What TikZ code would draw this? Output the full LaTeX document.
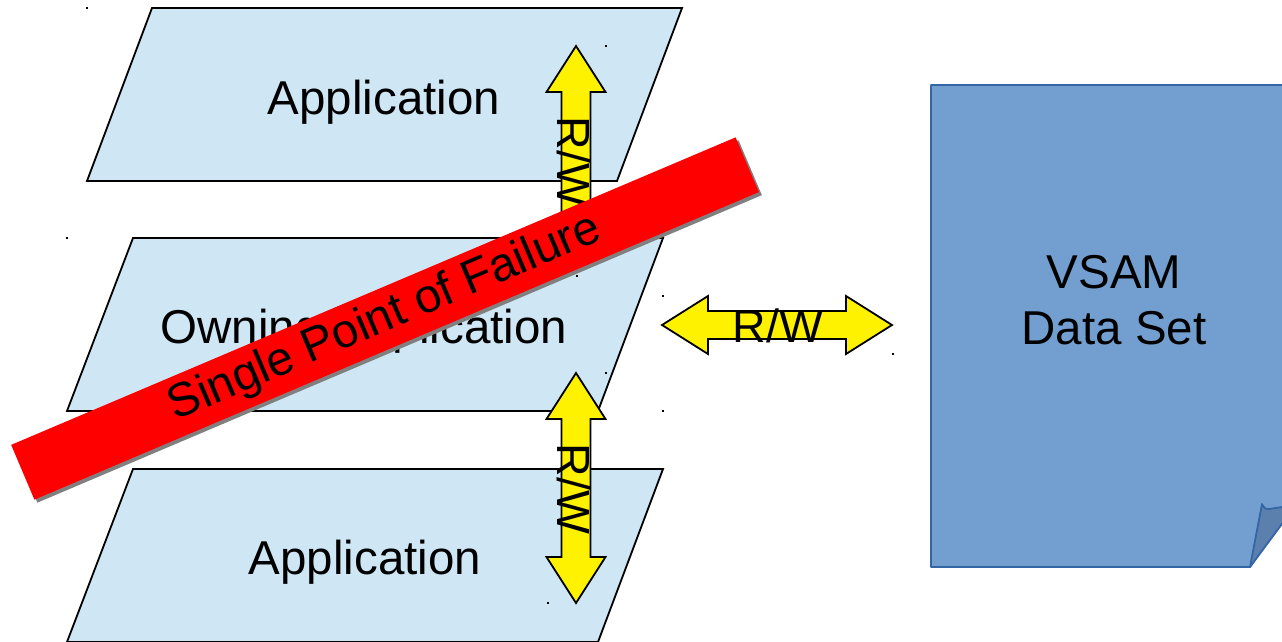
\documentclass[tikz,border=0pt]{standalone}
\usepackage{fontspec}
\setmainfont{Liberation Sans}
\definecolor{paraFill}{HTML}{CFE7F5}
\definecolor{docFill}{HTML}{729FCF}
\definecolor{docLine}{HTML}{3465A4}
\definecolor{docFold}{HTML}{5C80AD}
\definecolor{shadowGray}{HTML}{808080}
\tikzset{
  para/.style={fill=paraFill, draw=black, line width=1.8pt, line join=miter},
  rwarrow/.style={fill=yellow, draw=black, line width=1.8pt, line join=miter},
  doc/.style={fill=docFill, draw=docLine, line width=1.8pt, line join=round},
  fold/.style={fill=docFold, draw=docLine, line width=1.8pt, line join=round},
  bigtext/.style={font=\fontsize{47.5}{56.7}\selectfont, inner sep=0pt, text=black},
  rwtext/.style={font=\fontsize{46.5}{56}\selectfont, inner sep=0pt, text=black},
  banner/.style={minimum width=787pt, minimum height=59.5pt, inner sep=0pt, rotate=23},
}
\begin{document}
\begin{tikzpicture}[x=1pt, y=-1pt]
  \useasboundingbox (0,0) rectangle (1282,641);
  \fill[white] (0,0) rectangle (1282,641);
  \clip (0,0) rectangle (1282,641);

  % upper application
  \path[para] (152,8) -- (682,8) -- (617,181) -- (87,181) -- cycle;
  \node[bigtext, anchor=base] (appTop) at (384,114.5) {Application};

  % upper R/W arrow (its lower half runs under the owning application)
  \path[rwarrow] (576,46) -- (605.5,92) -- (590.5,92) -- (590.5,230) -- (605.5,230)
        -- (576,276) -- (546.5,230) -- (561.5,230) -- (561.5,92) -- (546.5,92) -- cycle;
  \node[rwtext, anchor=base, rotate=-90] (rwTop) at (557.5,162) {R/W};

  % owning application
  \path[para] (133,238) -- (663,238) -- (598,411) -- (67,411) -- cycle;
  \node[bigtext, anchor=base] (owner) at (364,343.3) {Owning Application};

  % lower application
  \path[para] (133,469) -- (663,469) -- (598,642) -- (67,642) -- cycle;
  \node[bigtext, anchor=base] (appLow) at (365,574.3) {Application};

  % lower R/W arrow
  \path[rwarrow] (576,373) -- (605.5,419) -- (590.5,419) -- (590.5,557) -- (605.5,557)
        -- (576,603) -- (546.5,557) -- (561.5,557) -- (561.5,419) -- (546.5,419) -- cycle;
  \node[rwtext, anchor=base, rotate=-90] (rwLow) at (557.5,489) {R/W};

  % R/W arrow between owning application and the data set
  \path[rwarrow] (662,325) -- (708,296) -- (708,311) -- (846,311) -- (846,296)
        -- (892,325) -- (846,354) -- (846,339) -- (708,339) -- (708,354) -- cycle;
  \node[rwtext, anchor=base] (rwMid) at (778,342) {R/W};

  % VSAM data set document with folded corner
  \path[doc] (931,85) -- (1300,85) -- (1300,492) -- (1250,567) -- (931,567) -- cycle;
  \path[fold] (1250,567) -- (1262,504) .. controls (1264,509) and (1267,510) .. (1272,508.5)
        -- (1296,505) -- cycle;
  \node[bigtext, align=center] (vsam) at (1114,300) {VSAM\\Data Set};

  % single point of failure banner
  \node[banner, fill=shadowGray] (spofShadow) at (388,321.5) {};
  \node[banner, fill=red, bigtext] (spof) at (385,318.5) {Single Point of Failure};

  % small marker dots
  \foreach \mx/\my in {87/8, 606/46, 67/238, 663/296, 893/354, 663/411,
                       606/373, 548/603, 577/276}
    \fill[black] (\mx-1,\my-1) rectangle (\mx+1,\my+1);
\end{tikzpicture}
\end{document}
